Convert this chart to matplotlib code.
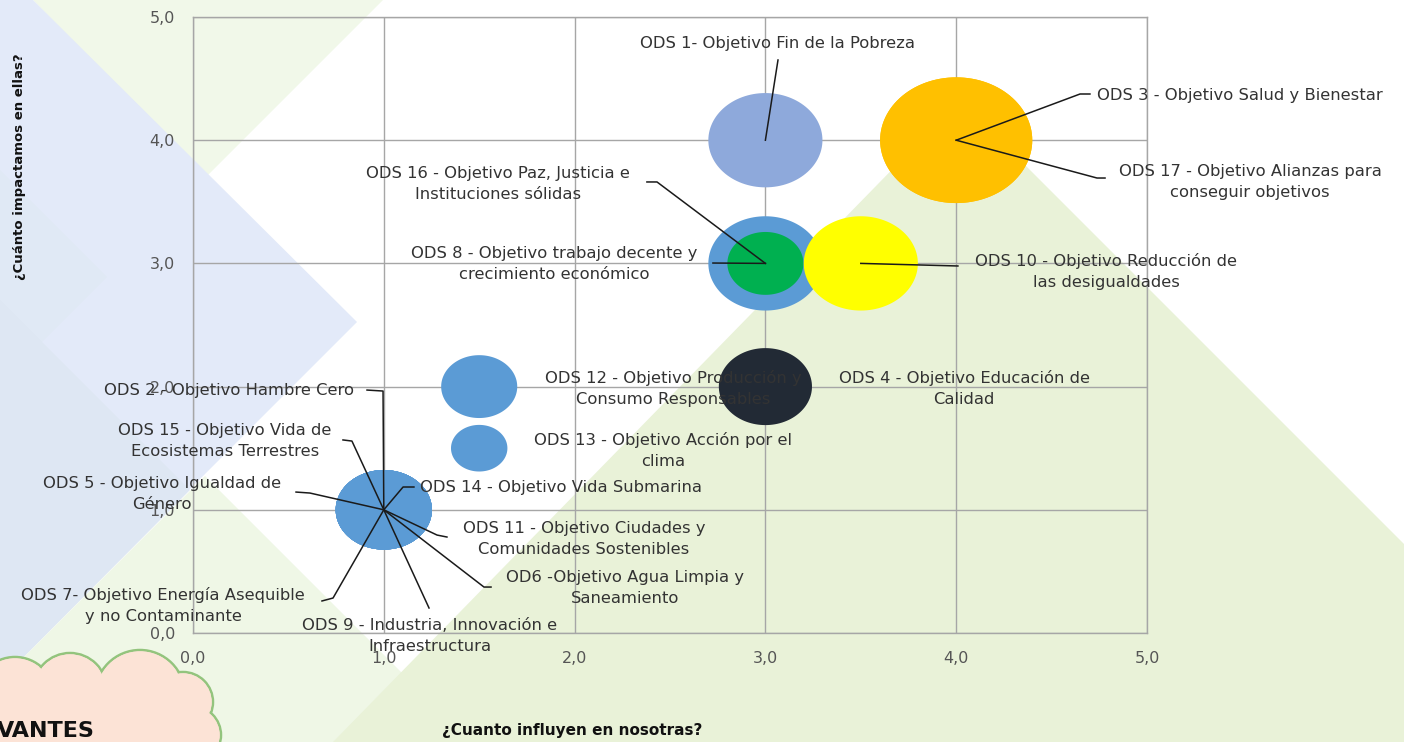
import numpy as np
import matplotlib
matplotlib.use("Agg")
import matplotlib.pyplot as plt
from matplotlib.path import Path
from matplotlib.patches import Polygon, Circle

# ---------------- data ----------------
ods_ids = ["ODS 1", "ODS 3", "ODS 17", "ODS 8", "ODS 16", "ODS 10", "ODS 4",
           "ODS 12", "ODS 13", "ODS 2", "ODS 15", "ODS 5", "ODS 14", "ODS 11",
           "ODS 6", "ODS 7", "ODS 9"]
influencia = [3.0, 4.0, 4.0, 3.0, 3.0, 3.5, 3.0, 1.5, 1.5, 1.0, 1.0, 1.0, 1.0, 1.0, 1.0, 1.0, 1.0]
impacto = [4.0, 4.0, 4.0, 3.0, 3.0, 3.0, 2.0, 2.0, 1.5, 1.0, 1.0, 1.0, 1.0, 1.0, 1.0, 1.0, 1.0]
tamano = [9, 16, 16, 9, 4, 9, 6, 4, 2.2, 6.4, 6.4, 6.4, 6.4, 6.4, 6.4, 6.4, 6.4]
colores = ["#8EA9DB", "#FFC000", "#FFC000", "#5B9BD5", "#00B050", "#FFFF00", "#222A35",
           "#5B9BD5", "#5B9BD5", "#5B9BD5", "#5B9BD5", "#5B9BD5", "#5B9BD5", "#5B9BD5",
           "#5B9BD5", "#5B9BD5", "#5B9BD5"]
etiquetas = [
    "ODS 1- Objetivo Fin de la Pobreza",
    "ODS 3 - Objetivo Salud y Bienestar",
    "ODS 17 - Objetivo Alianzas para\nconseguir objetivos",
    "ODS 8 - Objetivo trabajo decente y\ncrecimiento económico",
    "ODS 16 - Objetivo Paz, Justicia e\nInstituciones sólidas",
    "ODS 10 - Objetivo Reducción de\nlas desigualdades",
    "ODS 4 - Objetivo Educación de\nCalidad",
    "ODS 12 - Objetivo Producción y\nConsumo Responsables",
    "ODS 13 - Objetivo Acción por el\nclima",
    "ODS 2 - Objetivo Hambre Cero",
    "ODS 15 - Objetivo Vida de\nEcosistemas Terrestres",
    "ODS 5 - Objetivo Igualdad de\nGénero",
    "ODS 14 - Objetivo Vida Submarina",
    "ODS 11 - Objetivo Ciudades y\nComunidades Sostenibles",
    "OD6 -Objetivo Agua Limpia y\nSaneamiento",
    "ODS 7- Objetivo Energía Asequible\ny no Contaminante",
    "ODS 9 - Industria, Innovación e\nInfraestructura",
]
ticks = [0, 1, 2, 3, 4, 5]
tick_labels = ["0,0", "1,0", "2,0", "3,0", "4,0", "5,0"]
x_title = "¿Cuanto influyen en nosotras?"
y_title = "¿Cuánto impactamos en ellas?"

# ---------------- layout (label positions, leader elbows, in axis units) ----------------
label_pos = [
    (3.066, 4.781, "center", [(3.066, 4.651)]),
    (4.738, 4.359, "left", [(4.649, 4.375), (4.701, 4.375)]),
    (5.540, 3.661, "center", [(4.738, 3.693), (4.780, 3.693)]),
    (1.892, 2.995, "center", [(2.725, 3.003)]),
    (1.599, 3.644, "center", [(2.432, 3.661), (2.379, 3.661)]),
    (4.785, 2.938, "center", [(4.009, 2.979)]),
    (4.041, 1.981, "center", []),
    (2.516, 1.981, "center", []),
    (2.463, 1.485, "center", []),
    (0.189, 1.972, "center", [(0.996, 1.964), (0.912, 1.972)]),
    (0.168, 1.558, "center", [(0.833, 1.558), (0.786, 1.567)]),
    (-0.162, 1.128, "center", [(0.613, 1.136), (0.540, 1.144)]),
    (1.190, 1.185, "left", [(1.101, 1.185), (1.158, 1.185)]),
    (2.049, 0.763, "center", [(1.279, 0.795), (1.331, 0.779)]),
    (2.264, 0.365, "center", [(1.525, 0.373), (1.562, 0.373)]),
    (-0.157, 0.227, "center", [(0.734, 0.284), (0.676, 0.260)]),
    (1.242, -0.024, "center", [(1.237, 0.203)]),
]

W, H = 1404, 742
fig = plt.figure(figsize=(W / 100, H / 100), dpi=100)
fig.patch.set_facecolor("white")

# ---------------- decorative background ----------------
bg = fig.add_axes([0, 0, 1, 1], zorder=0)
bg.set_xlim(0, W)
bg.set_ylim(H, 0)
bg.axis("off")
bg.add_patch(Polygon([(33, 0), (383, 0), (205, 178)], closed=True, fc="#F1F8E9", ec="none"))
bg.add_patch(Polygon([(0, 0), (33, 0), (357, 322), (0, 679)], closed=True, fc="#E3EAF9", ec="none"))
bg.add_patch(Polygon([(0, 170), (107, 277), (0, 384)], closed=True, fc="#E0E9F5", ec="none"))
bg.add_patch(Polygon([(0, 300), (190, 490), (0, 681)], closed=True, fc="#DEE7F3", ec="none"))
bg.add_patch(Polygon([(205, 476), (471, 742), (0, 742), (0, 681)], closed=True, fc="#EFF7E6", ec="none"))
bg.add_patch(Polygon([(960, 100), (1404, 544), (1404, 742), (333, 742)], closed=True, fc="#E9F2D8", ec="none"))
cloud_edge = [(15, 697, 40), (70, 690, 37), (140, 695, 45), (183, 702, 30), (192, 735, 29)]
cloud_fill = [(100, 742, 50), (40, 745, 45), (165, 728, 30)]
for cx, cy, r in cloud_edge:
    bg.add_patch(Circle((cx, cy), r, fc="#FCE3D6", ec="#93C47D", lw=1.8))
for cx, cy, r in cloud_edge:
    bg.add_patch(Circle((cx, cy), r - 1.4, fc="#FCE3D6", ec="none"))
for cx, cy, r in cloud_fill:
    bg.add_patch(Circle((cx, cy), r, fc="#FCE3D6", ec="none"))
bg.text(-3, 731, "VANTES", fontsize=16, fontweight="bold", color="#111111",
        ha="left", va="center", family="DejaVu Sans")

# ---------------- chart ----------------
ax = fig.add_axes([193 / W, 1 - 633 / H, (1147 - 193) / W, (633 - 17) / H], zorder=1)
ax.set_facecolor("none")
ax.set_xlim(0, 5)
ax.set_ylim(0, 5)
ax.set_xticks(ticks)
ax.set_yticks(ticks)
ax.set_xticklabels(tick_labels)
ax.set_yticklabels(tick_labels)
ax.tick_params(length=0, labelsize=11.5, labelcolor="#555555", pad=13)
ax.grid(True, color="#A6A6A6", lw=1.0)
ax.set_axisbelow(True)
for s in ax.spines.values():
    s.set_color("#A6A6A6")
    s.set_linewidth(1.0)

# elliptical bubble marker (chart is stretched horizontally)
t = np.linspace(0, 2 * np.pi, 121)
ell = Path(np.column_stack([1.21 * np.cos(t), np.sin(t)]), closed=True)
scale = 750
for i in range(len(ods_ids)):
    ax.scatter([influencia[i]], [impacto[i]], s=tamano[i] * scale, marker=ell,
               color=colores[i], edgecolors="none", zorder=3 + i * 0.01, clip_on=False)

for i in range(len(ods_ids)):
    tx, ty, ha, elbows = label_pos[i]
    if elbows:
        xs = [influencia[i]] + [p[0] for p in elbows]
        ys = [impacto[i]] + [p[1] for p in elbows]
        ax.plot(xs, ys, color="#1A1A1A", lw=1.1, zorder=5, clip_on=False)
    ax.text(tx, ty, etiquetas[i], ha=ha, va="center", multialignment="center",
            fontsize=11.8, color="#333333", linespacing=1.5, zorder=6, clip_on=False)

ax.set_xlabel(x_title, fontsize=11, fontweight="bold", color="#111111", va="center")
ax.xaxis.set_label_coords((572 - 193) / 954, -(731 - 633) / 616)
ax.set_ylabel(y_title, fontsize=9.5, fontweight="bold", color="#111111", va="center", ha="center")
ax.yaxis.set_label_coords(-(193 - 20) / 954, (633 - 167) / 616)

fig.savefig("out.png", dpi=100)
